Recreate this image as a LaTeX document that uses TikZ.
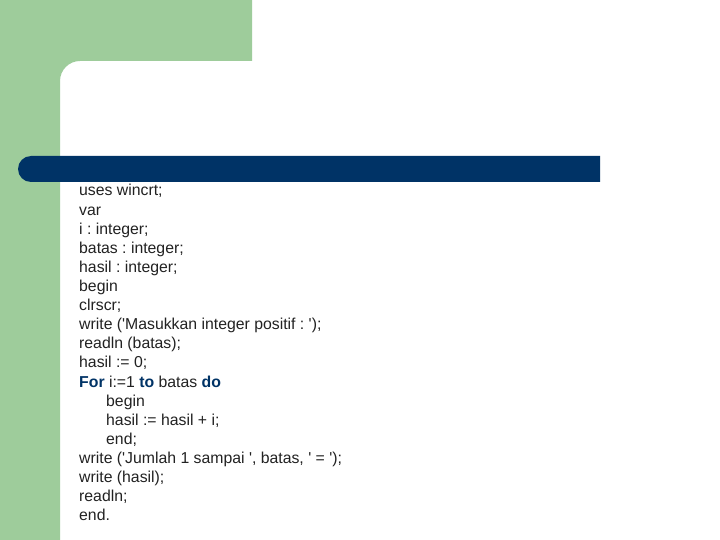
\documentclass[tikz,border=0pt]{standalone}
\usepackage{fontspec}
\setmainfont{Liberation Sans}
\frenchspacing
\definecolor{bggreen}{HTML}{9ECC9B}
\definecolor{barblue}{HTML}{003366}
\definecolor{codetext}{HTML}{222222}
\begin{document}
\begin{tikzpicture}[x=1pt,y=1pt,
  codeline/.style={anchor=base west,inner sep=0pt,text=codetext,font=\fontsize{15.8}{18}\selectfont}]
\useasboundingbox (0,0) rectangle (720,-540);
\fill[white] (0,0) rectangle (720,-540);
\fill[bggreen] (0,0) -- (252,0) -- (252,-61) -- (80,-61) arc (90:180:20) -- (60,-540) -- (0,-540) -- cycle;
\fill[barblue] (600,-156) -- (31,-156) arc (90:270:13) -- (600,-182) -- cycle;
\newcommand{\kwd}[1]{\textcolor{barblue}{\bfseries #1}}
\newcommand{\q}{\textquotesingle}
\foreach \t [count=\k from 0] in {
  {uses wincrt;},
  {var},
  {i : integer;},
  {batas : integer;},
  {hasil : integer;},
  {begin},
  {clrscr;},
  {write (\q Masukkan integer positif : \q);},
  {readln (batas);},
  {hasil := 0;},
  {\kwd{For} i:=1 \kwd{to} batas \kwd{do}},
  {\hspace*{27pt}begin},
  {\hspace*{27pt}hasil := hasil + i;},
  {\hspace*{27pt}end;},
  {write (\q Jumlah 1 sampai \q, batas, \q{} = \q);},
  {write (hasil);},
  {readln;},
  {end.}}
  \node[codeline] (line\k) at (79,{-196-19.1*\k}) {\t};
\end{tikzpicture}
\end{document}
